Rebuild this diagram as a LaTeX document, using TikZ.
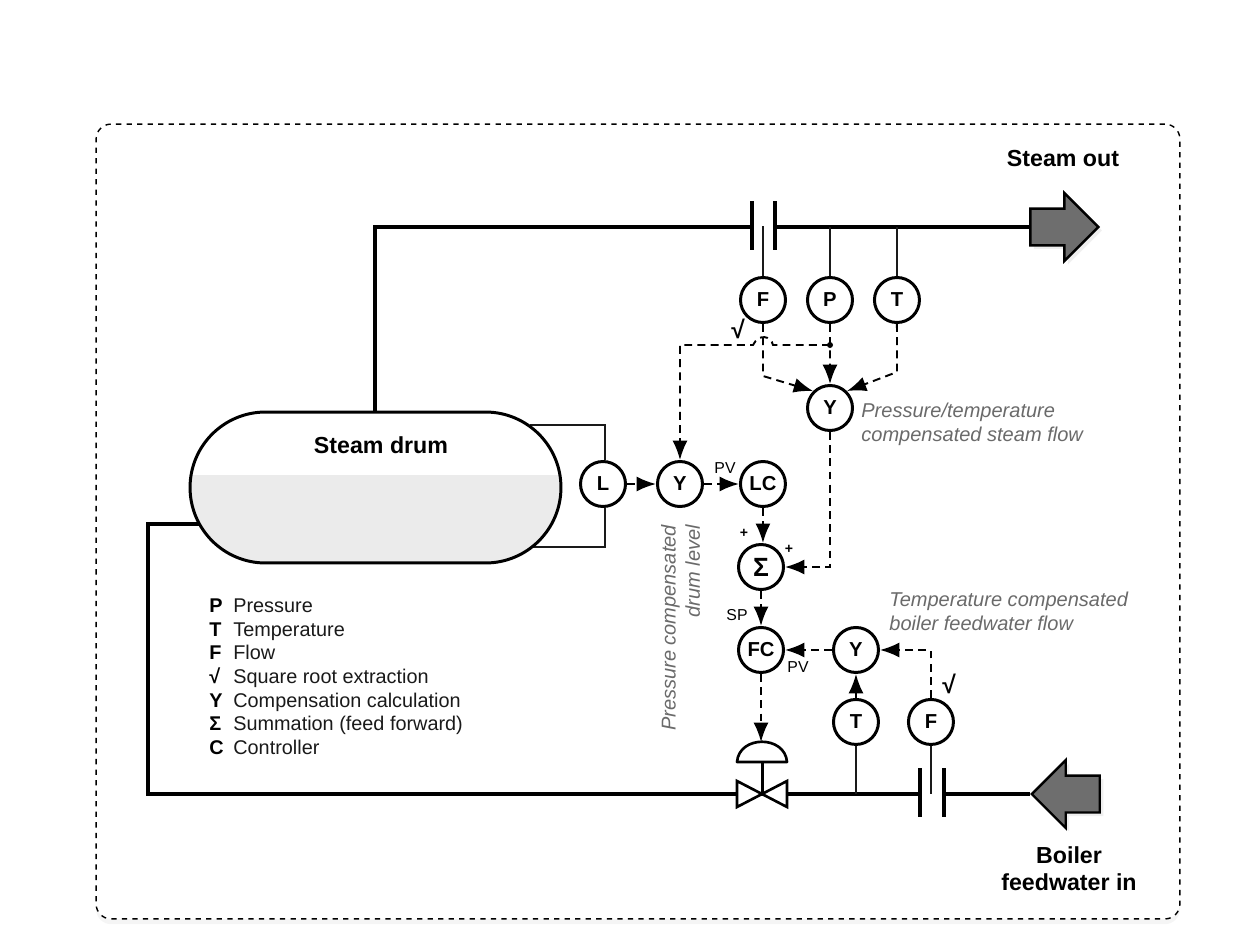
\documentclass[tikz,border=0pt]{standalone}
\usepackage{fontspec}
\setmainfont{Liberation Sans}
\usetikzlibrary{arrows.meta,positioning,shapes.arrows,shapes.misc,shadows}
\definecolor{grisDrum}{HTML}{EBEBEB}
\definecolor{grisFlecha}{HTML}{6E6E6E}
\definecolor{grisNota}{HTML}{6A6A6A}
\definecolor{tinta}{HTML}{1A1A1A}

\begin{document}
\begin{tikzpicture}[
  x=0.02cm, y=-0.02cm,
  font=\fontsize{11}{13}\selectfont,
  bubble/.style={circle, draw=black, fill=white, line width=1.7pt, minimum size=0.9cm, inner sep=0pt, font=\fontsize{11.5}{13}\selectfont\bfseries},
  pipe/.style={line width=2.5pt, color=black},
  plate/.style={line width=2pt, color=black},
  impulse/.style={line width=1.1pt, color=tinta},
  signal/.style={line width=1.1pt, dash pattern=on 4.5pt off 3pt, color=black},
  sigarrow/.style={signal, -{Latex[length=11pt,width=8.5pt]}},
  bigarrow/.style={single arrow, draw=black, fill=grisFlecha, line width=1.4pt, minimum height=1.36cm, single arrow head extend=0.31cm, single arrow head indent=0pt, inner sep=0.345cm, drop shadow={opacity=0.12, shadow xshift=2pt, shadow yshift=-2pt}},
  title/.style={font=\fontsize{13.2}{15.5}\selectfont\bfseries, align=center},
  note/.style={font=\fontsize{11.4}{13.8}\selectfont\itshape, color=grisNota, align=left, inner sep=0pt},
  tag/.style={font=\fontsize{9}{11}\selectfont, inner sep=0pt},
  roottag/.style={font=\fontsize{14}{14}\selectfont\bfseries, inner sep=0pt},
  legendsym/.style={font=\fontsize{11.3}{13}\selectfont\bfseries, anchor=base west, inner sep=0pt},
  legendtxt/.style={font=\fontsize{11.3}{13}\selectfont, color=tinta, anchor=base west, inner sep=0pt}
]
\useasboundingbox (0,0) rectangle (1250,946);

\node[draw=black, fill=white, dashed, line width=0.8pt, rounded corners=0.3cm, minimum width=21.68cm, minimum height=15.9cm, drop shadow={opacity=0.08, shadow xshift=0pt, shadow yshift=-3pt}] (frame) at (638,521.5) {};

\coordinate (elbowTop) at (375,227);
\coordinate (tapSteam) at (375,420);
\coordinate (plateA) at (752,227);
\coordinate (plateB) at (775,227);
\coordinate (tapHigh) at (530,425);
\coordinate (tapLow) at (530,547);
\coordinate (tapFeed) at (200,524);
\coordinate (elbowIn) at (148,524);
\coordinate (elbowOut) at (148,794);
\coordinate (plateC) at (920,794);
\coordinate (plateD) at (944,794);
\coordinate (valve) at (762,794);
\coordinate (dome) at (762,742);

\draw[pipe] (tapSteam) -- (elbowTop) -- (plateA);
\draw[pipe] (tapFeed) -- (elbowIn) -- (elbowOut) -- (valve);

\node[bubble] (level) at (603,484) {L};
\draw[impulse] (tapHigh) -| ([xshift=0.04cm]level.north);
\draw[impulse] (tapLow) -| ([xshift=0.04cm]level.south);

\node[rounded rectangle, draw=black, line width=1.7pt, minimum width=7.42cm, minimum height=3.02cm, inner sep=0pt, path picture={\fill[grisDrum] (path picture bounding box.south west) rectangle ([yshift=0.25cm]path picture bounding box.east);}, fill=white] (drum) at (375.5,487.5) {};
\node[title] (drumlabel) at (381,445) {Steam drum};

\node[bubble] (flowtop) at (763,300) {F};
\node[bubble, right=0.38cm of flowtop] (prestop) {P};
\node[bubble, right=0.38cm of prestop] (temptop) {T};
\node[bubble] (ycomp) at (830,408) {Y};
\node[bubble, right=0.58cm of level] (ydrum) {Y};
\node[bubble, right=0.70cm of ydrum] (lc) {LC};
\node[bubble, font=\fontsize{15}{15}\selectfont\bfseries] (sum) at (761,567) {Σ};
\node[bubble, below=0.70cm of sum] (fc) {FC};
\node[bubble, right=0.94cm of fc] (yfeed) {Y};
\node[bubble, below=0.48cm of yfeed] (tempfeed) {T};
\node[bubble, right=0.54cm of tempfeed] (flowfeed) {F};

\node[bigarrow, anchor=tip] (steamout) at (1100,227) {};
\node[bigarrow, shape border rotate=180, anchor=tip] (feedin) at (1030,794) {};

\draw[pipe] (plateB) -- (steamout.tail);
\draw[pipe] (valve) -- (plateC);
\draw[pipe] (plateD) -- (feedin.tip);

\draw[plate] (752,201) -- (plateA) -- (752,250);
\draw[plate] (775,201) -- (plateB) -- (775,250);
\draw[plate] (920,768) -- (plateC) -- (920,817);
\draw[plate] (944,768) -- (plateD) -- (944,817);

\draw[impulse] (flowtop.north) -- (763,226);
\draw[impulse] (prestop.north) -- (prestop.north |- plateB);
\draw[impulse] (temptop.north) -- (temptop.north |- plateB);
\draw[impulse] (tempfeed.south) -- (tempfeed.south |- valve);
\draw[impulse] (flowfeed.south) -- (flowfeed.south |- valve);

\draw[plate, line width=1.5pt, fill=white, line join=miter] (737,781) -- (787,807) -- (787,781) -- (737,807) -- cycle;
\draw[plate, line width=1.7pt] (dome) -- (valve);
\draw[plate, line width=1.5pt, fill=white, line join=round] (737,762) .. controls (739,735) and (785,735) .. (787,762) -- cycle;

\coordinate (junction) at (830,345);
\fill (junction) circle[radius=3];
\draw[sigarrow] (flowtop.south) -- (763,376) -- (ycomp.north west);
\draw[sigarrow] (prestop.south) -- (ycomp.north);
\draw[sigarrow] (temptop.south) -- (897,372) -- (ycomp.north east);
\draw[sigarrow] (junction) -- (773,345) .. controls (771,336) and (759,333) .. (753,345) -- (ydrum.north |- junction) -- (ydrum.north);
\draw[sigarrow] (level.east) -- (ydrum.west);
\draw[sigarrow] (ydrum.east) -- (lc.west);
\draw[sigarrow] (lc.south) -- (lc.south |- sum.north);
\draw[sigarrow] (ycomp.south) |- (sum.east);
\draw[sigarrow] (sum.south) -- (fc.north);
\draw[sigarrow] (yfeed.west) -- (fc.east);
\draw[sigarrow] (flowfeed.north) |- (yfeed.east);
\draw[line width=1.1pt, -{Latex[length=11pt,width=8.5pt]}] (tempfeed.north) -- (yfeed.south);
\draw[sigarrow] (fc.south) -- (fc.south |- dome);

\node[title] (steamlabel) at (1063,159) {Steam out};
\node[title] (feedlabel) at (1069,869) {Boiler\\feedwater in};

\node[note, anchor=west] (notesteam) at (861,424.5) {Pressure/temperature\\compensated steam flow};
\node[note, anchor=west] (notefeed) at (889,611.5) {Temperature compensated\\boiler feedwater flow};
\node[note, rotate=90, align=right] (notedrum) at (680.5,628) {Pressure compensated\\drum level};

\node[tag] (pvlc) at (725,468) {PV};
\node[tag] (spfc) at (737,615) {SP};
\node[tag] (pvfc) at (798,667) {PV};
\node[tag, font=\fontsize{8}{10}\selectfont\bfseries] (plusa) at (744,533) {+};
\node[tag, font=\fontsize{8}{10}\selectfont\bfseries] (plusb) at (789,549) {+};
\node[roottag] (roota) at (738,329) {√};
\node[roottag] (rootb) at (949,684) {√};

\foreach \sym/\txt/\yy in {P/Pressure/612, T/Temperature/636, F/Flow/659, √/Square root extraction/683, Y/Compensation calculation/707, Σ/Summation (feed forward)/730, C/Controller/754}{
  \node[legendsym] (sym\yy) at (209,\yy) {\sym};
  \node[legendtxt] (txt\yy) at (233,\yy) {\txt};
}
\end{tikzpicture}
\end{document}
